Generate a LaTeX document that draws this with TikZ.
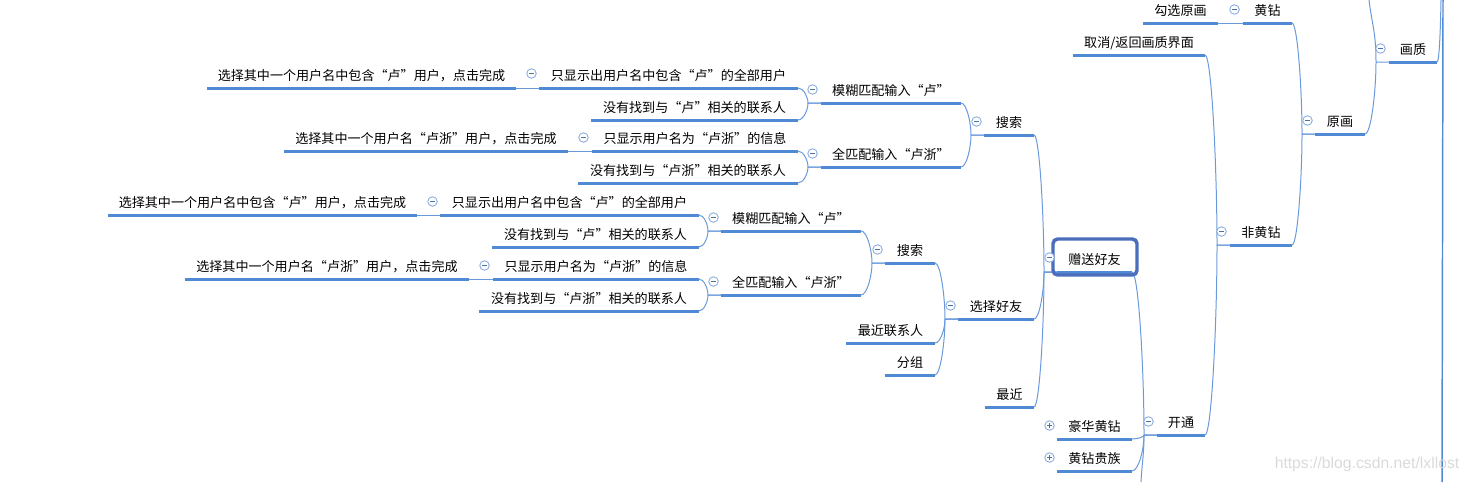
\documentclass[tikz,border=0pt]{standalone}
\usepackage{fontspec}
\setmainfont{Noto Sans CJK SC}
\newfontfamily\wmfont{Liberation Sans}
\usetikzlibrary{calc}
\definecolor{linkc}{HTML}{5089D4}
\definecolor{thinc}{HTML}{6A9ADB}
\definecolor{framec}{HTML}{4A6DBC}
\definecolor{iconc}{HTML}{8FB0E0}
\definecolor{signc}{HTML}{4F6F9F}
\definecolor{wmc}{HTML}{DADADA}
\tikzset{
  topicbox/.style={inner sep=0pt,outer sep=0pt,minimum height=26*0.75pt,text height=0.9em,text depth=0.05em,anchor=south west,font=\fontsize{9.8pt}{11pt}\selectfont,text=black},
  underline/.style={draw=linkc,line width=2.25pt},
  thinlink/.style={draw=thinc,line width=0.75pt},
  framebox/.style={draw=framec,line width=2.6pt,rounded corners=3.5pt,inner sep=0pt,minimum width=84*0.75pt,minimum height=36*0.75pt},
  iconbox/.style={circle,draw=iconc,line width=0.7pt,minimum size=9.5*0.75pt,inner sep=0pt},
  signline/.style={draw=signc,line width=0.6pt},
}
\newcommand{\topic}[5]{%
  \pgfmathsetmacro{\tpw}{(#3-#2)*0.75}%
  \node[topicbox,minimum width=\tpw pt] (#1) at (#2,#4) {#5};%
  \draw[underline] (#1.south west) -- (#1.south east);}
% child to stem of parent, then along the stub to the parent's line
\newcommand{\conn}[2]{%
  \draw[thinlink] let \p1=(#1.south east),\p2=($(#2.south west)+(-13,0)$) in
    (#1.south east) .. controls ({\x1+0.55*(\x2-\x1)},\y1) and (\x2,{\y1+0.6*(\y2-\y1)}) .. (\x2,\y2) -- (#2.south west);}
\newcommand{\minusicon}[3]{%
  \node[iconbox,fill=white] (#1) at (#2,#3) {};%
  \draw[signline] ($(#1.center)+(-2.5,0)$) -- ($(#1.center)+(2.5,0)$);}
\newcommand{\plusicon}[3]{%
  \node[iconbox,fill=white] (#1) at (#2,#3) {};%
  \draw[signline] ($(#1.center)+(-2.5,0)$) -- ($(#1.center)+(2.5,0)$);%
  \draw[signline] ($(#1.center)+(0,-2.5)$) -- ($(#1.center)+(0,2.5)$);}
\begin{document}
\begin{tikzpicture}[x=0.75pt,y=-0.75pt]
\useasboundingbox (0,0) rectangle (1470,482);
\clip (0,0) rectangle (1470,482);
% upper search branch
\topic{aa}{207}{516}{88}{选择其中一个用户名中包含“卢”用户，点击完成}
\topic{ab}{539}{798}{88}{只显示出用户名中包含“卢”的全部用户}
\topic{ac}{591}{798}{120}{没有找到与“卢”相关的联系人}
\topic{ad}{821}{961}{103}{模糊匹配输入“卢”}
\topic{ba}{284}{568}{151}{选择其中一个用户名“卢浙”用户，点击完成}
\topic{bb}{592}{798}{151}{只显示用户名为“卢浙”的信息}
\topic{bc}{578}{798}{183}{没有找到与“卢浙”相关的联系人}
\topic{bd}{821}{961}{167}{全匹配输入“卢浙”}
\topic{se}{984}{1034}{135}{搜索}
% lower search branch
\topic{ca}{108}{417}{215}{选择其中一个用户名中包含“卢”用户，点击完成}
\topic{cb}{440}{699}{215}{只显示出用户名中包含“卢”的全部用户}
\topic{cc}{492}{699}{247}{没有找到与“卢”相关的联系人}
\topic{cd}{721}{861}{231}{模糊匹配输入“卢”}
\topic{da}{185}{469}{279}{选择其中一个用户名“卢浙”用户，点击完成}
\topic{db}{493}{699}{279}{只显示用户名为“卢浙”的信息}
\topic{dc}{479}{699}{311}{没有找到与“卢浙”相关的联系人}
\topic{dd}{721}{861}{295}{全匹配输入“卢浙”}
\topic{sf}{885}{935}{263}{搜索}
\topic{rc}{846}{935}{343}{最近联系人}
\topic{gr}{885}{935}{375}{分组}
\topic{fr}{958}{1034}{319}{选择好友}
\topic{re}{985}{1034}{407}{最近}
% centre and right
\topic{root}{1057}{1132}{272}{赠送好友}
\topic{hh}{1057}{1132}{439}{豪华黄钻}
\topic{hg}{1057}{1132}{471}{黄钻贵族}
\topic{kt}{1157}{1205}{435}{开通}
\topic{qx}{1073}{1205}{55}{取消/返回画质界面}
\topic{fh}{1230}{1292}{245}{非黄钻}
\topic{gx}{1143}{1218}{23}{勾选原画}
\topic{hz}{1243}{1292}{23}{黄钻}
\topic{yh}{1315}{1365}{134}{原画}
\topic{hq}{1389}{1437}{62}{画质}
% free ends of branches that leave the picture
\coordinate (offkt) at (1141,482);
\coordinate (offyh) at (1369,0);
\coordinate (offhq) at (1441,0);
\coordinate (spinetop) at (1443,0);
\coordinate (spinebot) at (1442,482);
% connectors
\draw[thinlink] (aa.south east) -- (ab.south west);
\draw[thinlink] (ba.south east) -- (bb.south west);
\draw[thinlink] (ca.south east) -- (cb.south west);
\draw[thinlink] (da.south east) -- (db.south west);
\draw[thinlink] (gx.south east) -- (hz.south west);
\conn{ab}{ad}\conn{ac}{ad}\conn{bb}{bd}\conn{bc}{bd}
\conn{ad}{se}\conn{bd}{se}
\conn{cb}{cd}\conn{cc}{cd}\conn{db}{dd}\conn{dc}{dd}
\conn{cd}{sf}\conn{dd}{sf}
\conn{sf}{fr}\conn{rc}{fr}\conn{gr}{fr}
\conn{se}{root}\conn{fr}{root}\conn{re}{root}
\conn{root}{kt}\conn{hh}{kt}\conn{hg}{kt}
\conn{kt}{fh}\conn{qx}{fh}
\conn{hz}{yh}\conn{fh}{yh}
\conn{yh}{hq}
\draw[thinlink] ($(kt.south west)+(-13,0)$) .. controls +(0,20) and +(1,-20) .. (offkt);
\draw[thinlink] ($(hq.south west)+(-13,0)$) .. controls +(0,-30) and +(3,25) .. (offyh);
\draw[thinlink] (hq.south east) .. controls +(2.5,0) and +(-0.5,25) .. (offhq);
\draw[draw=linkc,line width=1.1pt] (spinetop) -- (spinebot);
% frame round the selected topic
\node[framebox] (rootframe) at (1095,257) {};
% collapse markers
\minusicon{ma}{531.5}{73.5}
\minusicon{mb}{812.5}{89.5}
\minusicon{mc}{583.5}{137.5}
\minusicon{md}{812.5}{153.5}
\minusicon{me}{976.5}{121.5}
\minusicon{mf}{432.5}{201.5}
\minusicon{mg}{713.5}{217.5}
\minusicon{mh}{484.5}{265.5}
\minusicon{mi}{713.5}{281.5}
\minusicon{mj}{877.5}{249.5}
\minusicon{mk}{950.5}{305.5}
\minusicon{ml}{1049.5}{257.5}
\minusicon{mm}{1148.5}{421.5}
\minusicon{mn}{1221.5}{231.5}
\minusicon{mo}{1307.5}{120.5}
\minusicon{mp}{1234.5}{9.5}
\minusicon{mq}{1380.5}{48.5}
\plusicon{pa}{1049.5}{425.5}
\plusicon{pb}{1049.5}{457.5}
% watermark
\node[inner sep=0pt,text=wmc,font=\wmfont\fontsize{11.8pt}{13pt}\selectfont] (wm) at (1367,464) {https://blog.csdn.net/lxllost};
\end{tikzpicture}
\end{document}
